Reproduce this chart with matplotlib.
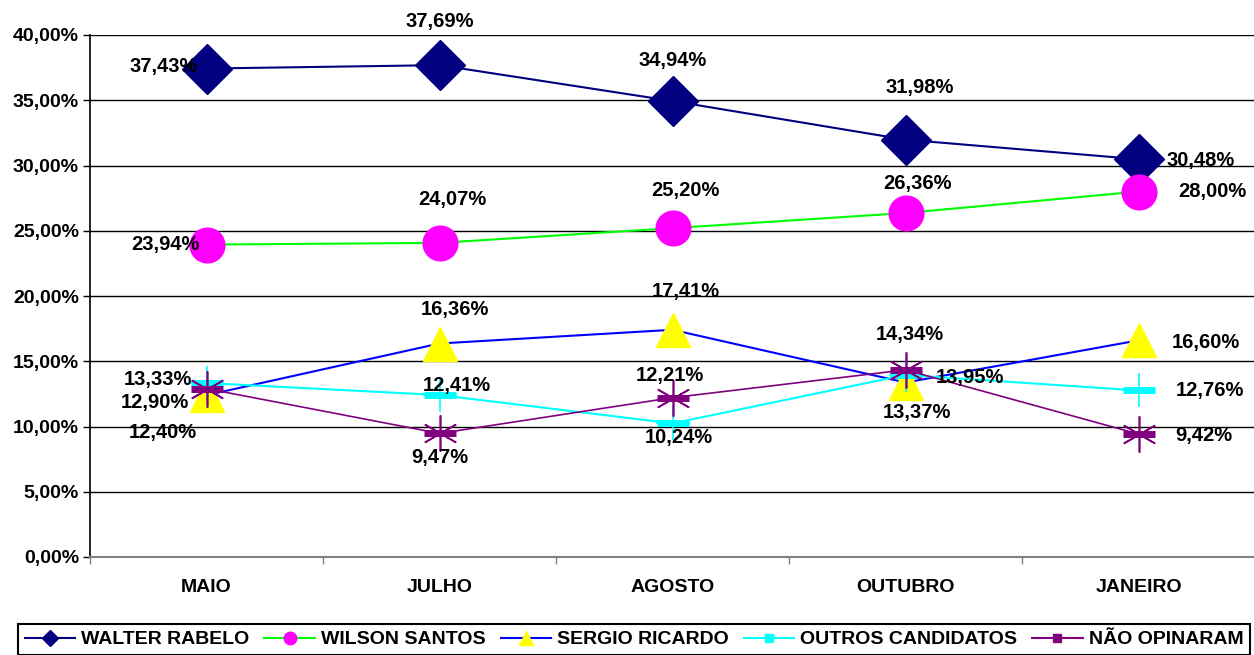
import matplotlib
matplotlib.use("Agg")
import matplotlib.pyplot as plt
from matplotlib.lines import Line2D
from matplotlib.ticker import FuncFormatter, FixedLocator

meses = ["MAIO", "JULHO", "AGOSTO", "OUTUBRO", "JANEIRO"]
walter = [37.43, 37.69, 34.94, 31.98, 30.48]
wilson = [23.94, 24.07, 25.20, 26.36, 28.00]
sergio = [12.40, 16.36, 17.41, 13.37, 16.60]
outros = [13.33, 12.41, 10.24, 13.95, 12.76]
nao = [12.90, 9.47, 12.21, 14.34, 9.42]
nomes = ["WALTER RABELO", "WILSON SANTOS", "SERGIO RICARDO", "OUTROS CANDIDATOS", "NÃO OPINARAM"]

plt.rcParams['font.family'] = ['Liberation Sans', 'DejaVu Sans']
plt.rcParams['font.weight'] = 'bold'

fig = plt.figure(figsize=(12.54, 6.55), dpi=100)
ax = fig.add_axes([90/1254, 98/655, 1165/1254, 522/655])
x = range(len(meses))

# offsets dos rotulos (pixels)
off_walter = [(-43, 2), (0, 44), (0, 41), (14, 52), (62, -1)]
off_wilson = [(-41, 0), (13, 43), (13, 38), (12, 30), (74, 0)]
off_sergio = [(-44, -37), (15, 34), (13, 38), (11, -30), (67, -2)]
off_outros = [(-49, 4), (17, 10), (6, -14), (64, -3), (71, 0)]
off_nao = [(-52, -14), (0, -24), (-3, 22), (4, 35), (65, -1)]

ax.plot(x, walter, color='#000080', lw=1.5, marker='D', ms=25, mfc='#000080', mec='#000080', zorder=3)
ax.plot(x, wilson, color='#00FF00', lw=1.5, marker='o', ms=25, mfc='#FF00FF', mec='#FF00FF', zorder=3)
ax.plot(x, sergio, color='#0000FF', lw=1.5, marker='^', ms=24, mfc='#FFFF00', mec='#FFFF00', zorder=3)
ax.plot(x, outros, color='#00FFFF', lw=1.5, zorder=3)
ax.plot(x, outros, ls='none', marker='_', ms=23, mew=5, color='#00FFFF', zorder=3)
ax.plot(x, outros, ls='none', marker='+', ms=24, mew=1.2, color='#00FFFF', zorder=3)
ax.plot(x, nao, color='#800080', lw=1.2, zorder=3)
ax.plot(x, nao, ls='none', marker='_', ms=23, mew=5, color='#800080', zorder=3)
ax.plot(x, nao, ls='none', marker=(6, 2, 0), ms=26, mew=1.2, color='#800080', zorder=3)

for vals, offs in [(walter, off_walter), (wilson, off_wilson), (sergio, off_sergio),
                   (outros, off_outros), (nao, off_nao)]:
    for i, v in enumerate(vals):
        ax.annotate(f"{v:.2f}%".replace('.', ','), (i, v), xytext=offs[i],
                    textcoords='offset pixels', ha='center', va='center',
                    fontsize=14.5, fontweight='bold', zorder=5)

ax.set_xlim(-0.5, 4.5)
ax.set_ylim(0, 40)
ax.set_yticks(range(0, 41, 5))
ax.yaxis.set_major_formatter(FuncFormatter(lambda v, p: f"{v:.2f}%".replace('.', ',')))
ax.set_xticks(list(x))
ax.set_xticklabels(meses)
ax.xaxis.set_minor_locator(FixedLocator([-0.5, 0.5, 1.5, 2.5, 3.5, 4.5]))
ax.tick_params(axis='x', which='major', length=0, pad=16, labelsize=14)
ax.tick_params(axis='x', which='minor', length=5, width=1, direction='out', color='#808080')
ax.tick_params(axis='y', length=5, width=1, direction='out', pad=3, labelsize=14)
for lab in ax.get_xticklabels() + ax.get_yticklabels():
    lab.set_fontweight('bold')
ax.grid(axis='y', color='black', lw=1)
ax.set_axisbelow(True)
for s in ['top', 'right']:
    ax.spines[s].set_visible(False)
ax.spines['left'].set_linewidth(1.2)
ax.spines['bottom'].set_linewidth(1.5)
ax.spines['bottom'].set_color('#808080')

handles = [
    Line2D([], [], color='#000080', lw=1.5, marker='D', ms=8, mfc='#000080', mec='#000080'),
    Line2D([], [], color='#00FF00', lw=1.5, marker='o', ms=9, mfc='#FF00FF', mec='#FF00FF'),
    Line2D([], [], color='#0000FF', lw=1.5, marker='^', ms=10, mfc='#FFFF00', mec='#FFFF00'),
    Line2D([], [], color='#00FFFF', lw=1.5, marker='s', ms=6, mfc='#00FFFF', mec='#00FFFF'),
    Line2D([], [], color='#800080', lw=1.5, marker='s', ms=6, mfc='#800080', mec='#800080'),
]
leg = fig.legend(handles, nomes, loc='upper left', ncol=5, mode='expand',
                 bbox_to_anchor=(18/1254, 0, 1232/1254, 31/655),
                 fancybox=False, edgecolor='black', framealpha=1,
                 prop={'size': 14, 'weight': 'bold'}, handlelength=2.6,
                 handletextpad=0.3, columnspacing=0.5, borderaxespad=0, borderpad=0.35)
leg.get_frame().set_linewidth(1.5)

fig.savefig("out.png", dpi=100)
